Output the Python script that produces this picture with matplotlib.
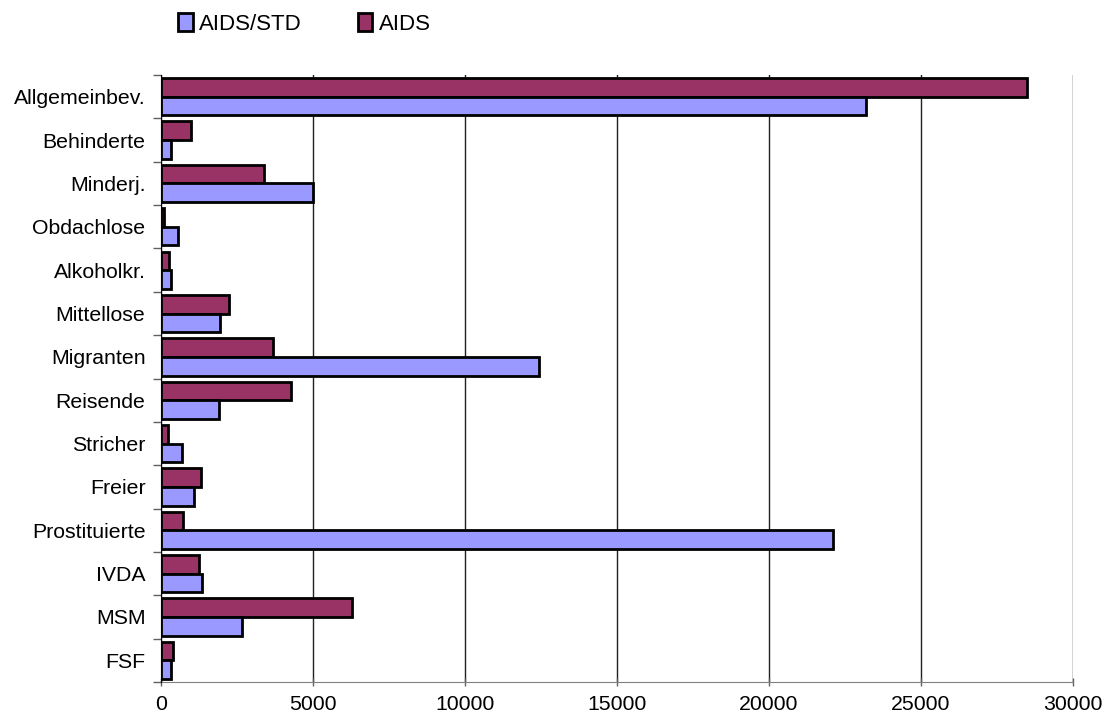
import numpy as np
import matplotlib
matplotlib.use("Agg")
import matplotlib.pyplot as plt
from matplotlib.patches import Patch

plt.rcParams['font.family'] = ['Liberation Sans', 'DejaVu Sans']

categories = ["Allgemeinbev.", "Behinderte", "Minderj.", "Obdachlose", "Alkoholkr.",
              "Mittellose", "Migranten", "Reisende", "Stricher", "Freier",
              "Prostituierte", "IVDA", "MSM", "FSF"]
aids_std = [23200, 330, 5000, 560, 330, 1960, 12450, 1920, 690, 1100, 22100, 1370, 2660, 340]
aids = [28500, 1000, 3400, 120, 280, 2260, 3700, 4280, 230, 1340, 720, 1250, 6300, 400]

col_std = '#9999FF'
col_aids = '#993366'

fig = plt.figure(figsize=(11.07, 7.22), dpi=100)
ax = fig.add_axes([0.1452, 0.0554, 0.969 - 0.1452, 0.896 - 0.0554])

y = np.arange(len(categories))
h = 0.43
ax.barh(y - h / 2, aids, height=h, color=col_aids, edgecolor='black', linewidth=2, zorder=3)
ax.barh(y + h / 2, aids_std, height=h, color=col_std, edgecolor='black', linewidth=2, zorder=3)

ax.set_xlim(0, 30000)
ax.set_ylim(len(categories) - 0.5, -0.5)
ax.set_xticks(np.arange(0, 30001, 5000))
ax.set_xticklabels([str(v) for v in range(0, 30001, 5000)], fontsize=15.3)
ax.set_yticks(y)
ax.set_yticklabels(categories, fontsize=15.3)
ax.set_yticks(np.arange(-0.5, len(categories), 1), minor=True)

ax.tick_params(axis='y', which='major', length=0, pad=11)
ax.tick_params(axis='y', which='minor', length=6, width=1, color='#606060', direction='out')
ax.tick_params(axis='x', length=6, width=1, color='#606060', direction='inout', pad=6)

ax.grid(axis='x', color='#202020', linewidth=1, zorder=0)
for s in ['top', 'right']:
    ax.spines[s].set_visible(False)
ax.spines['left'].set_color('black')
ax.spines['bottom'].set_color('#808080')
ax.spines['left'].set_zorder(4)

handles = [Patch(facecolor=col_std, edgecolor='black', linewidth=2, label='AIDS/STD'),
           Patch(facecolor=col_aids, edgecolor='black', linewidth=2, label='AIDS')]
fig.legend(handles=handles, loc='center', bbox_to_anchor=(0.275, 0.967), ncol=2,
           frameon=False, fontsize=16, handlelength=0.65, handleheight=0.85,
           handletextpad=0.3, columnspacing=2.5)

fig.savefig('out.png', dpi=100)
